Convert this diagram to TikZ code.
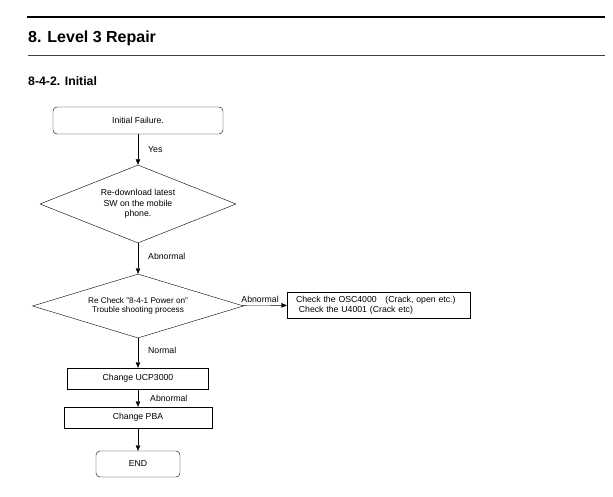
\documentclass[tikz,border=0pt]{standalone}
\usepackage{fontspec}
\setmainfont{Liberation Sans}
\usetikzlibrary{shapes.geometric,arrows.meta}
\begin{document}
\begin{tikzpicture}[x=1pt,y=-1pt,
  txt/.style={font=\fontsize{8.7}{10.5}\selectfont},
  rbox/.style={draw, rounded corners=4pt, txt, inner sep=0pt},
  pbox/.style={draw, txt, inner sep=0pt},
  dia/.style={draw, diamond, txt, align=center, inner sep=0pt},
  arr/.style={-{Triangle[length=5.5pt,width=4.5pt]}},
  lbl/.style={txt, inner sep=0pt}
]
\useasboundingbox (0,0) rectangle (613,497);
\coordinate (l1a) at (27,17);
\coordinate (l1b) at (605,17);
\draw[line width=2pt] (l1a) -- (l1b);
\node[anchor=west, font=\bfseries\fontsize{16}{18}\selectfont, inner sep=0pt] (title) at (28,38) {8. Level 3 Repair};
\coordinate (l2a) at (28,55);
\coordinate (l2b) at (605,55);
\draw[line width=0.8pt, black!75] (l2a) -- (l2b);
\node[anchor=west, font=\bfseries\fontsize{12.3}{14}\selectfont, inner sep=0pt] (sub) at (28,81) {8-4-2. Initial};

\node[rbox, minimum width=170pt, minimum height=27pt] (init) at (138,120.5) {Initial Failure.};
\node[dia, aspect=2.5, minimum width=196pt, minimum height=78pt] (d1) at (138,204) {Re-download latest\\SW on the mobile\\phone.};
\node[dia, aspect=3.3, minimum width=211pt, minimum height=64pt, font=\fontsize{8.2}{9.3}\selectfont] (d2) at (138,306) {Re Check "8-4-1 Power on"\\Trouble shooting process};
\node[pbox, minimum width=183pt, minimum height=26pt, text width=165pt, inner xsep=9pt, align=left, font=\fontsize{8.7}{9.5}\selectfont] (chk) at (378.5,305) {Check the OSC4000\ \ \ (Crack, open etc.)\\\ Check the U4001 (Crack etc)};
\node[pbox, minimum width=141pt, minimum height=21pt] (ucp) at (138,378.5) {Change UCP3000};
\node[pbox, minimum width=148pt, minimum height=21pt] (pba) at (138,417.5) {Change PBA};
\node[rbox, minimum width=84pt, minimum height=26pt] (end) at (138,464) {END};

\draw[arr] (init) -- node[lbl, right, xshift=10pt] {Yes} (d1);
\draw[arr] (d1) -- node[lbl, right, xshift=10pt, pos=0.42] {Abnormal} (d2);
\draw[arr] (d2) -- node[lbl, above, pos=0.4, yshift=3pt] {Abnormal} (chk);
\draw[arr] (d2) -- node[lbl, right, xshift=10pt, pos=0.4] {Normal} (ucp);
\draw[arr] (ucp) -- node[lbl, right, xshift=12pt] {Abnormal} (pba);
\draw[arr] (pba) -- (end);
\end{tikzpicture}
\end{document}
